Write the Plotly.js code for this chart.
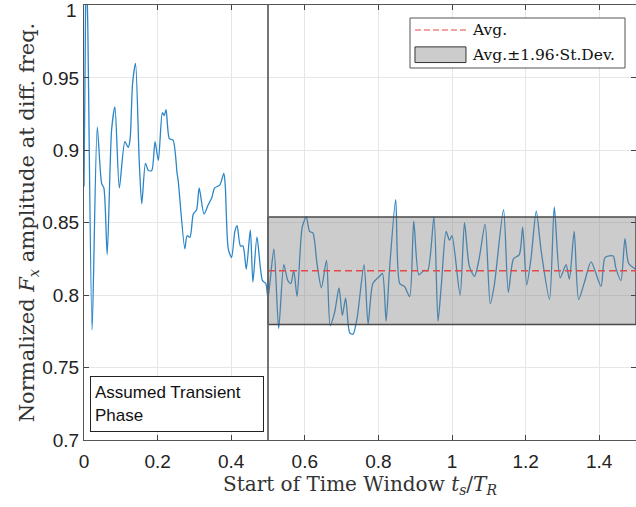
<!DOCTYPE html>
<html>
<head>
<meta charset="utf-8">
<script src="https://cdn.plot.ly/plotly-3.0.1.min.js"></script>
<style>html,body{margin:0;padding:0;background:#fff;}#chart{width:636px;height:507px;}</style>
</head>
<body>
<div id="chart"></div>
<script>
// Start of time window t_s/T_R
const tStart = [0.000,0.003,0.006,0.010,0.022,0.036,0.048,0.054,0.063,0.075,0.084,0.096,0.111,0.120,0.125,0.132,0.140,0.150,0.157,0.167,0.175,0.184,0.193,0.202,0.213,0.218,0.223,0.232,0.242,0.253,0.256,0.274,0.280,0.288,0.297,0.306,0.313,0.326,0.337,0.347,0.355,0.369,0.380,0.384,0.392,0.401,0.410,0.416,0.425,0.432,0.441,0.452,0.459,0.470,0.485,0.494,0.500,0.516,0.529,0.543,0.554,0.562,0.570,0.579,0.593,0.604,0.613,0.622,0.633,0.645,0.659,0.669,0.681,0.693,0.702,0.711,0.722,0.731,0.742,0.761,0.772,0.785,0.803,0.811,0.821,0.830,0.847,0.858,0.871,0.885,0.896,0.910,0.923,0.934,0.951,0.962,0.971,0.984,0.993,1.000,1.022,1.034,1.047,1.061,1.073,1.090,1.104,1.115,1.140,1.153,1.167,1.183,1.192,1.203,1.215,1.229,1.242,1.265,1.278,1.294,1.310,1.319,1.332,1.344,1.360,1.378,1.405,1.416,1.438,1.445,1.459,1.470,1.480,1.498];
// Normalized Fx amplitude at diff. freq.
const fxAmp = [0.875,0.960,1.030,0.990,0.776,0.916,0.877,0.874,0.828,0.914,0.930,0.874,0.906,0.902,0.907,0.946,0.960,0.893,0.863,0.891,0.886,0.886,0.906,0.893,0.926,0.924,0.928,0.908,0.907,0.884,0.879,0.832,0.841,0.840,0.856,0.859,0.874,0.856,0.862,0.867,0.874,0.876,0.884,0.875,0.832,0.826,0.844,0.848,0.834,0.834,0.818,0.845,0.809,0.840,0.810,0.808,0.798,0.832,0.777,0.821,0.810,0.808,0.817,0.799,0.847,0.854,0.844,0.843,0.822,0.805,0.824,0.779,0.788,0.805,0.786,0.798,0.774,0.773,0.784,0.821,0.780,0.808,0.813,0.815,0.782,0.817,0.866,0.808,0.806,0.799,0.851,0.814,0.817,0.817,0.854,0.782,0.807,0.844,0.838,0.841,0.800,0.850,0.820,0.813,0.824,0.849,0.794,0.807,0.859,0.802,0.825,0.828,0.847,0.807,0.826,0.858,0.831,0.797,0.861,0.812,0.821,0.811,0.844,0.797,0.809,0.823,0.806,0.826,0.827,0.819,0.810,0.839,0.822,0.818];

const transientEnd = 0.5;
const windowEnd = 1.5;
const avgValue = 0.8169;
const bandUpper = 0.8540;
const bandLower = 0.7798;
const legendNames = ['Avg.', 'Avg.\u00B11.96\u00B7St.Dev.'];
const boxText = 'Assumed Transient<br>Phase';
const xTicks = [0, 0.2, 0.4, 0.6, 0.8, 1, 1.2, 1.4];
const xTickText = ['0', '0.2', '0.4', '0.6', '0.8', '1', '1.2', '1.4'];
const yTicks = [0.7, 0.75, 0.8, 0.85, 0.9, 0.95, 1];
const yTickText = ['0.7', '0.75', '0.8', '0.85', '0.9', '0.95', '1'];

const serif = '"DejaVu Serif", "Liberation Serif", serif';
const sans = '"Liberation Sans", Arial, sans-serif';
const bandFill = 'rgba(128,128,128,0.4)';
const avgColor = '#e24a4a';

// the top tick label sits at the page edge; it is drawn as an annotation just below it
const lastY = yTicks.length - 1;
const yTickTextAxis = yTickText.map((t, i) => (i === lastY ? '' : t));

const traces = [
  {
    x: tStart, y: fxAmp, type: 'scatter', mode: 'lines',
    line: {color: '#2a86c8', width: 1.3, shape: 'spline', smoothing: 0.7},
    showlegend: false, hoverinfo: 'skip'
  },
  {
    x: [transientEnd, windowEnd, windowEnd, transientEnd, transientEnd],
    y: [bandUpper, bandUpper, bandLower, bandLower, bandUpper],
    type: 'scatter', mode: 'lines', fill: 'toself',
    fillcolor: bandFill,
    line: {color: '#4a4a4a', width: 1.5},
    name: legendNames[1], showlegend: false, hoverinfo: 'skip'
  },
  {
    x: [transientEnd, windowEnd], y: [avgValue, avgValue],
    type: 'scatter', mode: 'lines',
    line: {color: avgColor, width: 1.5, dash: '7px,4px'},
    name: legendNames[0], showlegend: false, hoverinfo: 'skip'
  }
];

// manual legend geometry (paper coords)
const lgX0 = 0.5906, lgX1 = 0.9801, lgY0 = 0.8552, lgY1 = 0.9701;
const swX0 = 0.5996, swX1 = 0.6920;
const row1 = 0.9425, row2 = 0.8857;

const layout = {
  width: 636, height: 507,
  margin: {l: 84, r: 0, t: 5, b: 67},
  paper_bgcolor: '#ffffff', plot_bgcolor: '#ffffff',
  showlegend: false,
  xaxis: {
    range: [0, windowEnd], tickmode: 'array', tickvals: xTicks, ticktext: xTickText,
    ticks: 'inside', ticklen: 5, tickcolor: '#444', tickwidth: 1,
    showline: true, linecolor: '#555', linewidth: 1, mirror: 'ticks',
    showgrid: true, gridcolor: '#e6e6e6', gridwidth: 1, zeroline: false,
    ticklabelstandoff: 4,
    tickfont: {family: sans, size: 19, color: '#222'},
    title: {text: 'Start of Time Window <i>t</i><sub><i>s</i></sub>/<i>T</i><sub><i>R</i></sub>',
            font: {family: serif, size: 20, color: '#333'}, standoff: 5}
  },
  yaxis: {
    range: [0.7, 1.0003], tickmode: 'array', tickvals: yTicks, ticktext: yTickTextAxis,
    ticks: 'inside', ticklen: 5, tickcolor: '#444', tickwidth: 1,
    showline: true, linecolor: '#555', linewidth: 1, mirror: 'ticks',
    showgrid: true, gridcolor: '#e6e6e6', gridwidth: 1, zeroline: false,
    tickfont: {family: sans, size: 19, color: '#222'},
    title: {text: '\u00A0\u00A0\u00A0Normalized <i>F</i><sub><i>x</i></sub> amplitude at diff. freq.',
            font: {family: serif, size: 21, color: '#333'}, standoff: 1}
  },
  shapes: [
    {type: 'line', xref: 'x', yref: 'paper', x0: transientEnd, x1: transientEnd, y0: 0, y1: 1,
     line: {color: '#666666', width: 1.8}, layer: 'above'},
    {type: 'rect', xref: 'paper', yref: 'paper', x0: lgX0, x1: lgX1, y0: lgY0, y1: lgY1,
     fillcolor: '#ffffff', line: {color: '#555555', width: 1}, layer: 'above'},
    {type: 'line', xref: 'paper', yref: 'paper', x0: swX0, x1: swX1, y0: row1, y1: row1,
     line: {color: '#f08484', width: 1.5, dash: '6px,3px'}, layer: 'above'},
    {type: 'rect', xref: 'paper', yref: 'paper', x0: swX0, x1: swX1, y0: row2 - 0.018, y1: row2 + 0.018,
     fillcolor: '#cccccc', line: {color: '#333333', width: 1}, layer: 'above'}
  ],
  annotations: [
    {xref: 'paper', yref: 'y', x: 0, y: yTicks[lastY], xanchor: 'right', yanchor: 'middle',
     xshift: -5, yshift: -5, text: yTickText[lastY], showarrow: false,
     font: {family: sans, size: 19, color: '#222'}},
    {xref: 'paper', yref: 'paper', x: 0.011, y: 0.019, xanchor: 'left', yanchor: 'bottom',
     text: boxText, showarrow: false, align: 'left', valign: 'middle',
     width: 164, height: 46, borderpad: 4, bordercolor: '#222', borderwidth: 1,
     bgcolor: '#ffffff', font: {family: sans, size: 17, color: '#111'}},
    {xref: 'paper', yref: 'paper', x: 0.6993, y: row1, xanchor: 'left', yanchor: 'middle',
     text: legendNames[0], showarrow: false, font: {family: serif, size: 15.5, color: '#111'}},
    {xref: 'paper', yref: 'paper', x: 0.6993, y: row2, xanchor: 'left', yanchor: 'middle',
     text: legendNames[1], showarrow: false, font: {family: serif, size: 15.5, color: '#111'}}
  ]
};

Plotly.newPlot('chart', traces, layout, {displayModeBar: false, staticPlot: true});
</script>
</body>
</html>
